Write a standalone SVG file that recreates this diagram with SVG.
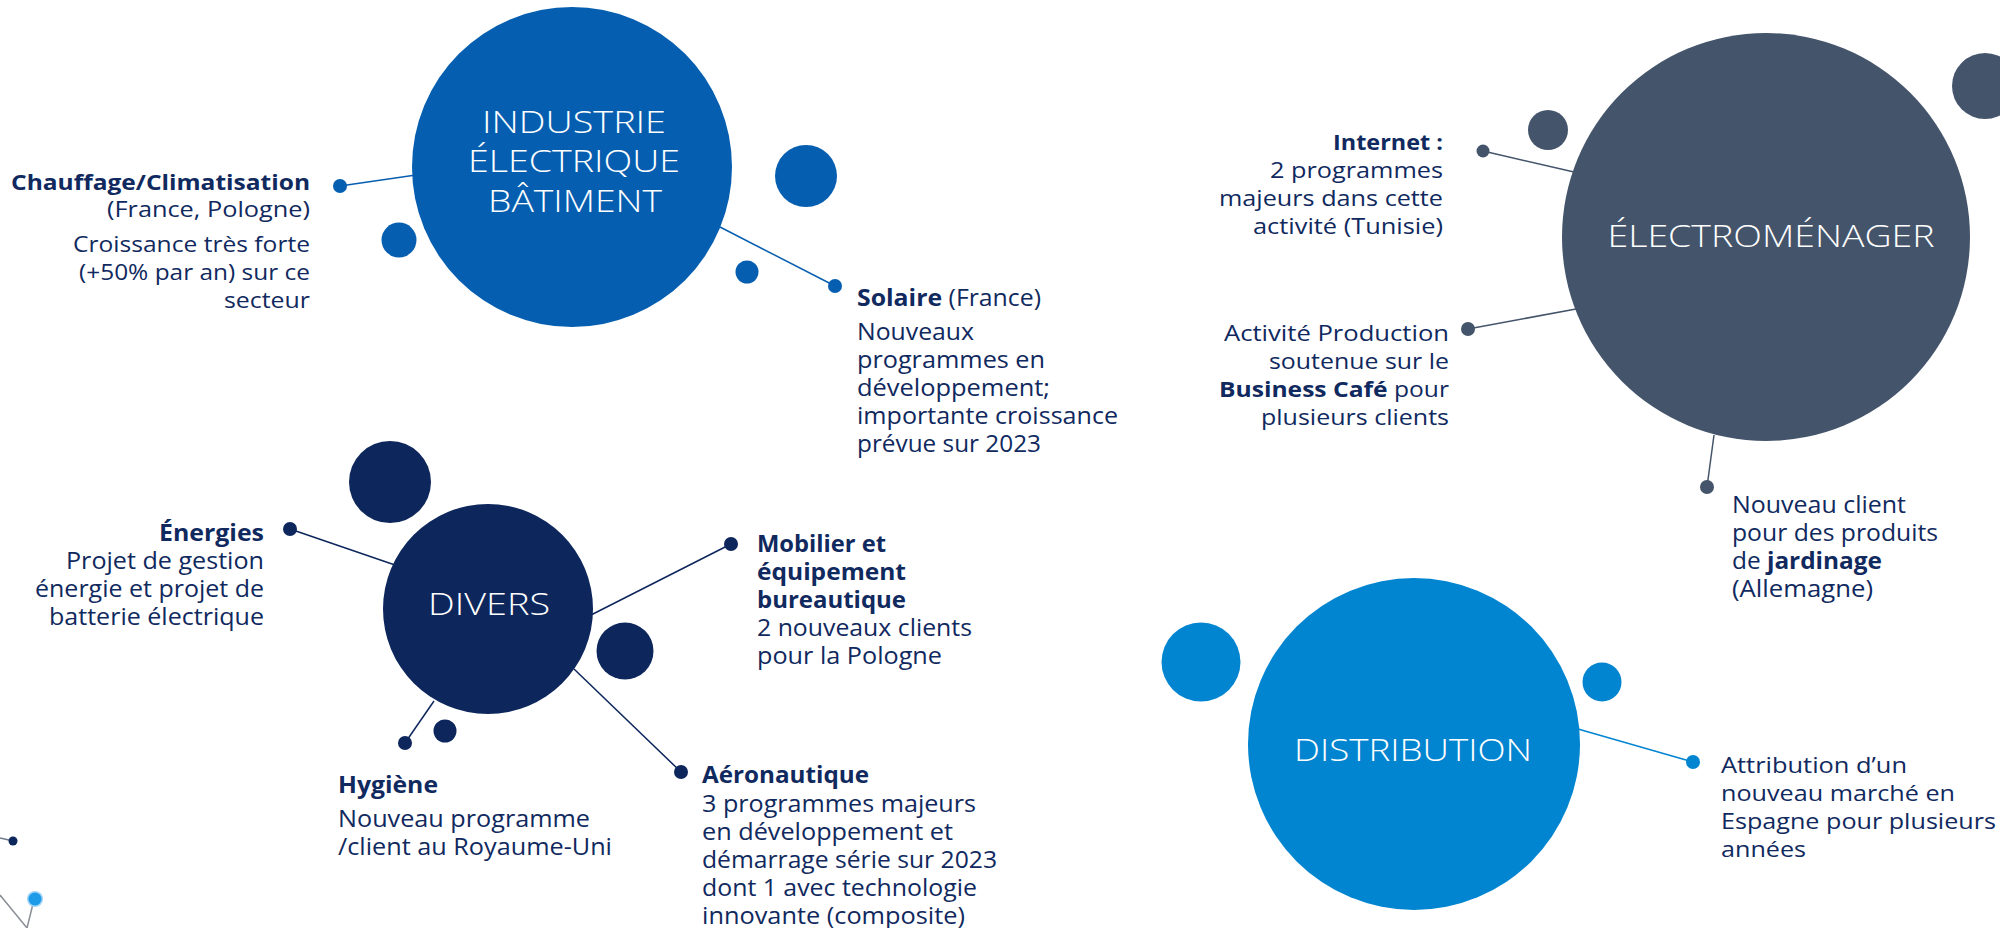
<svg xmlns="http://www.w3.org/2000/svg" width="2000" height="928" viewBox="0 0 2000 928">
<style>
.t{font-family:"Open Sans","Liberation Sans",sans-serif;fill:#10295E;font-size:23px}
.c{font-size:21px}
.b{font-weight:700}
.e{text-anchor:end}
.ttl{font-family:"Open Sans","Liberation Sans",sans-serif;fill:#FFFFFF;font-size:32px;font-weight:300;text-anchor:middle}
.ln{stroke-width:1.5;fill:none}
.ind{fill:#055EB0}.elc{fill:#44546A}.div{fill:#0D265C}.dis{fill:#0285D0}
.sind{stroke:#055EB0}.selc{stroke:#44546A}.sdiv{stroke:#0D265C}.sdis{stroke:#0285D0}
</style>
<rect width="2000" height="928" fill="#FFFFFF"/>
<g id="connectors">
<line class="ln sind" x1="340" y1="186" x2="416" y2="175"/>
<line class="ln sind" x1="720" y1="227" x2="835" y2="286"/>
<line class="ln selc" x1="1483" y1="151" x2="1574" y2="172"/>
<line class="ln selc" x1="1468" y1="329" x2="1576" y2="309"/>
<line class="ln selc" x1="1714" y1="435" x2="1707" y2="487"/>
<line class="ln sdiv" x1="290" y1="529" x2="395" y2="565"/>
<line class="ln sdiv" x1="591" y1="615" x2="731" y2="544"/>
<line class="ln sdiv" x1="574" y1="669" x2="681" y2="772"/>
<line class="ln sdiv" x1="434" y1="701" x2="405" y2="743"/>
<line class="ln sdis" x1="1578" y1="729" x2="1693" y2="762"/>
<circle class="ind" cx="340" cy="186" r="7"/>
<circle class="ind" cx="835" cy="286" r="7"/>
<circle class="elc" cx="1483" cy="151" r="6.5"/>
<circle class="elc" cx="1468" cy="329" r="7"/>
<circle class="elc" cx="1707" cy="487" r="7"/>
<circle class="div" cx="290" cy="529" r="7"/>
<circle class="div" cx="731" cy="544" r="7"/>
<circle class="div" cx="681" cy="772" r="7"/>
<circle class="div" cx="405" cy="743" r="7"/>
<circle class="dis" cx="1693" cy="762" r="7"/>
</g>
<g id="deco">
<line x1="0" y1="838" x2="13" y2="841" stroke="#6D7A8C" stroke-width="1.5"/>
<circle cx="13" cy="841" r="4.5" fill="#0D265C"/>
<line x1="0" y1="895" x2="27" y2="928" stroke="#8A8F96" stroke-width="1.5"/>
<line x1="34" y1="900" x2="27" y2="928" stroke="#8A8F96" stroke-width="1.5"/>
<circle cx="35" cy="899" r="8" fill="#9FD3F5"/>
<circle cx="35" cy="899" r="6.5" fill="#1E9BE8"/>
</g>
<g id="node-industrie">
<circle class="ind" cx="572" cy="167" r="160"/>
<circle class="ind" cx="399" cy="240" r="17.5"/>
<circle class="ind" cx="806" cy="176" r="31"/>
<circle class="ind" cx="747" cy="272" r="11.5"/>
<text class="ttl" x="574" y="133" textLength="184" lengthAdjust="spacingAndGlyphs">INDUSTRIE</text>
<text class="ttl" x="574" y="172" textLength="212" lengthAdjust="spacingAndGlyphs">ÉLECTRIQUE</text>
<text class="ttl" x="575" y="212" textLength="174" lengthAdjust="spacingAndGlyphs">BÂTIMENT</text>
</g>
<g id="node-electromenager">
<circle class="elc" cx="1766" cy="237" r="204"/>
<circle class="elc" cx="1548" cy="130" r="20"/>
<circle class="elc" cx="1985" cy="86" r="33"/>
<text class="ttl" x="1771" y="247" textLength="327" lengthAdjust="spacingAndGlyphs">ÉLECTROMÉNAGER</text>
</g>
<g id="node-divers">
<circle class="div" cx="488" cy="609" r="105"/>
<circle class="div" cx="390" cy="482" r="41"/>
<circle class="div" cx="625" cy="651" r="28.5"/>
<circle class="div" cx="445" cy="731" r="11.5"/>
<text class="ttl" x="489" y="615" textLength="122" lengthAdjust="spacingAndGlyphs">DIVERS</text>
</g>
<g id="node-distribution">
<circle class="dis" cx="1414" cy="744" r="166"/>
<circle class="dis" cx="1201" cy="662" r="39.5"/>
<circle class="dis" cx="1602" cy="682" r="19.5"/>
<text class="ttl" x="1413" y="761" textLength="238" lengthAdjust="spacingAndGlyphs">DISTRIBUTION</text>
</g>
<g id="label-chauffage">
<text class="t c b e" x="310" y="190" textLength="299" lengthAdjust="spacingAndGlyphs">Chauffage/Climatisation</text>
<text class="t c e" x="310" y="217" textLength="203" lengthAdjust="spacingAndGlyphs">(France, Pologne)</text>
<text class="t c e" x="310" y="252" textLength="237" lengthAdjust="spacingAndGlyphs">Croissance très forte</text>
<text class="t c e" x="310" y="280" textLength="231" lengthAdjust="spacingAndGlyphs">(+50% par an) sur ce</text>
<text class="t c e" x="310" y="308" textLength="86" lengthAdjust="spacingAndGlyphs">secteur</text>
</g>
<g id="label-solaire">
<text class="t" x="857" y="306" textLength="184" lengthAdjust="spacingAndGlyphs"><tspan class="b">Solaire</tspan> (France)</text>
<text class="t" x="857" y="340" textLength="117" lengthAdjust="spacingAndGlyphs">Nouveaux</text>
<text class="t" x="857" y="368" textLength="188" lengthAdjust="spacingAndGlyphs">programmes en</text>
<text class="t" x="857" y="396" textLength="193" lengthAdjust="spacingAndGlyphs">développement;</text>
<text class="t" x="857" y="424" textLength="261" lengthAdjust="spacingAndGlyphs">importante croissance</text>
<text class="t" x="857" y="452" textLength="184" lengthAdjust="spacingAndGlyphs">prévue sur 2023</text>
</g>
<g id="label-internet">
<text class="t c b e" x="1443" y="150" textLength="110" lengthAdjust="spacingAndGlyphs">Internet :</text>
<text class="t c e" x="1443" y="178" textLength="173" lengthAdjust="spacingAndGlyphs">2 programmes</text>
<text class="t c e" x="1443" y="206" textLength="224" lengthAdjust="spacingAndGlyphs">majeurs dans cette</text>
<text class="t c e" x="1443" y="234" textLength="190" lengthAdjust="spacingAndGlyphs">activité (Tunisie)</text>
</g>
<g id="label-activite">
<text class="t c e" x="1449" y="341" textLength="225" lengthAdjust="spacingAndGlyphs">Activité Production</text>
<text class="t c e" x="1449" y="369" textLength="180" lengthAdjust="spacingAndGlyphs">soutenue sur le</text>
<text class="t c e" x="1449" y="397" textLength="230" lengthAdjust="spacingAndGlyphs"><tspan class="b">Business Café</tspan> pour</text>
<text class="t c e" x="1449" y="425" textLength="188" lengthAdjust="spacingAndGlyphs">plusieurs clients</text>
</g>
<g id="label-jardinage">
<text class="t" x="1732" y="513" textLength="174" lengthAdjust="spacingAndGlyphs">Nouveau client</text>
<text class="t" x="1732" y="541" textLength="206" lengthAdjust="spacingAndGlyphs">pour des produits</text>
<text class="t" x="1732" y="569" textLength="150" lengthAdjust="spacingAndGlyphs">de <tspan class="b">jardinage</tspan></text>
<text class="t" x="1732" y="597" textLength="141" lengthAdjust="spacingAndGlyphs">(Allemagne)</text>
</g>
<g id="label-energies">
<text class="t b e" x="264" y="541" textLength="105" lengthAdjust="spacingAndGlyphs">Énergies</text>
<text class="t e" x="264" y="569" textLength="198" lengthAdjust="spacingAndGlyphs">Projet de gestion</text>
<text class="t e" x="264" y="597" textLength="229" lengthAdjust="spacingAndGlyphs">énergie et projet de</text>
<text class="t e" x="264" y="625" textLength="215" lengthAdjust="spacingAndGlyphs">batterie électrique</text>
</g>
<g id="label-hygiene">
<text class="t b" x="338" y="793" textLength="100" lengthAdjust="spacingAndGlyphs">Hygiène</text>
<text class="t" x="338" y="827" textLength="252" lengthAdjust="spacingAndGlyphs">Nouveau programme</text>
<text class="t" x="338" y="855" textLength="274" lengthAdjust="spacingAndGlyphs">/client au Royaume-Uni</text>
</g>
<g id="label-mobilier">
<text class="t b" x="757" y="552" textLength="129" lengthAdjust="spacingAndGlyphs">Mobilier et</text>
<text class="t b" x="757" y="580" textLength="149" lengthAdjust="spacingAndGlyphs">équipement</text>
<text class="t b" x="757" y="608" textLength="149" lengthAdjust="spacingAndGlyphs">bureautique</text>
<text class="t" x="757" y="636" textLength="215" lengthAdjust="spacingAndGlyphs">2 nouveaux clients</text>
<text class="t" x="757" y="664" textLength="185" lengthAdjust="spacingAndGlyphs">pour la Pologne</text>
</g>
<g id="label-aeronautique">
<text class="t b" x="702" y="783" textLength="167" lengthAdjust="spacingAndGlyphs">Aéronautique</text>
<text class="t" x="702" y="812" textLength="274" lengthAdjust="spacingAndGlyphs">3 programmes majeurs</text>
<text class="t" x="702" y="840" textLength="251" lengthAdjust="spacingAndGlyphs">en développement et</text>
<text class="t" x="702" y="868" textLength="295" lengthAdjust="spacingAndGlyphs">démarrage série sur 2023</text>
<text class="t" x="702" y="896" textLength="275" lengthAdjust="spacingAndGlyphs">dont 1 avec technologie</text>
<text class="t" x="702" y="924" textLength="263" lengthAdjust="spacingAndGlyphs">innovante (composite)</text>
</g>
<g id="label-attribution">
<text class="t c" x="1721" y="773" textLength="186" lengthAdjust="spacingAndGlyphs">Attribution d’un</text>
<text class="t c" x="1721" y="801" textLength="234" lengthAdjust="spacingAndGlyphs">nouveau marché en</text>
<text class="t c" x="1721" y="829" textLength="275" lengthAdjust="spacingAndGlyphs">Espagne pour plusieurs</text>
<text class="t c" x="1721" y="857" textLength="85" lengthAdjust="spacingAndGlyphs">années</text>
</g>
</svg>
